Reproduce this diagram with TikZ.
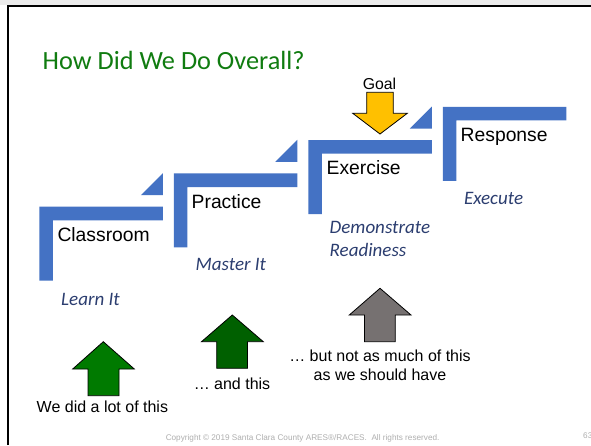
\documentclass[tikz,border=0pt]{standalone}
\usepackage{fontspec}
\setmainfont{Liberation Sans}
\newfontfamily\calib{Carlito}
\definecolor{stepblue}{HTML}{4472C4}
\definecolor{titlegreen}{RGB}{16,124,16}
\definecolor{italblue}{RGB}{44,62,112}
\definecolor{greenA}{RGB}{0,122,0}
\definecolor{greenB}{RGB}{0,96,0}
\definecolor{arrgray}{HTML}{767171}
\definecolor{goalyellow}{HTML}{FFC000}
\definecolor{copygray}{RGB}{175,175,175}
\tikzset{
  steplabel/.style={anchor=base west,inner sep=0pt,font=\fontsize{19.3}{23}\selectfont},
  itallabel/.style={anchor=base west,inner sep=0pt,text=italblue,font=\calib\itshape\fontsize{19}{23}\selectfont},
  bottext/.style={anchor=base,inner sep=0pt,font=\fontsize{16}{19}\selectfont},
  arrowline/.style={draw=black,line width=0.8pt,line join=miter},
}
\begin{document}
\begin{tikzpicture}[x=1pt,y=-1pt]
\useasboundingbox (0,0) rectangle (591,445);
\fill[white] (0,0) rectangle (591,445);
% frame
\fill[black!8] (0,0) rectangle (591,4.5);
\draw[line width=2pt] (8,445) -- (8,6) -- (591,6);
% title
\node[anchor=base west,inner sep=0pt,text=titlegreen,font=\calib\fontsize{26.3}{31}\selectfont] (title) at (42.5,69.3) {How Did We Do Overall?};
% steps
\foreach \i in {0,1,2,3}{
  \pgfmathsetmacro{\L}{39.3+134.5*\i}
  \pgfmathsetmacro{\T}{206.7-33.3*\i}
  \fill[stepblue] (\L,\T) -- ++(123.5,0) -- ++(0,13.6) -- ++(-110,0) -- ++(0,60.4) -- ++(-13.5,0) -- cycle;
}
\foreach \i in {0,1,2}{
  \pgfmathsetmacro{\L}{39.3+134.5*\i}
  \pgfmathsetmacro{\T}{206.7-33.3*\i}
  \fill[stepblue] (\L+101.5,\T-11.5) -- (\L+123.5,\T-33.5) -- (\L+123.5,\T-11.5) -- cycle;
}
% step labels
\node[steplabel] (classroom) at (57.3,241.7) {Classroom};
\node[steplabel] (practice) at (191.5,208) {Practice};
\node[steplabel] (exercise) at (326.5,174.3) {Exercise};
\node[steplabel] (response) at (460.5,141.7) {Response};
% italic labels
\node[itallabel] (learn) at (61,305) {Learn It};
\node[itallabel] (master) at (195.5,270.7) {Master It};
\node[itallabel] (demo) at (329.5,233.3) {Demonstrate};
\node[itallabel] (ready) at (329.5,256.6) {Readiness};
\node[itallabel] (execute) at (463.8,204) {Execute};
% goal arrow
\node[anchor=base,inner sep=0pt,font=\fontsize{15.8}{18}\selectfont] (goal) at (379.5,89.3) {Goal};
\filldraw[fill=goalyellow,arrowline] (366.7,92.3) -- (393.3,92.3) -- (393.3,113.3) -- (407.3,113.3) -- (380,134) -- (352.7,113.3) -- (366.7,113.3) -- cycle;
% up arrows
\filldraw[fill=greenA,arrowline] (103.3,341.7) -- (134.3,369) -- (119,369) -- (119,395.7) -- (88,395.7) -- (88,369) -- (72.7,369) -- cycle;
\filldraw[fill=greenB,arrowline] (232.3,315) -- (263.3,341.7) -- (247.5,341.7) -- (247.5,368.3) -- (216.7,368.3) -- (216.7,341.7) -- (201.5,341.7) -- cycle;
\filldraw[fill=arrgray,arrowline] (380,288.3) -- (411,315) -- (395.3,315) -- (395.3,341.7) -- (364.5,341.7) -- (364.5,315) -- (349.3,315) -- cycle;
% bottom texts
\node[bottext] (lot) at (102.4,412.7) {We did a lot of this};
\node[bottext] (andthis) at (232,389) {… and this};
\node[bottext] (notmuch) at (380,361.7) {… but not as much of this};
\node[bottext] (should) at (380,380.5) {as we should have};
% footer
\node[anchor=base,inner sep=0pt,text=copygray,font=\fontsize{8.2}{10}\selectfont] (copy) at (302.6,440.5) {Copyright © 2019 Santa Clara County ARES®/RACES.\ \ All rights reserved.};
\node[anchor=base west,inner sep=0pt,text=copygray,font=\fontsize{8.2}{10}\selectfont] (pagenum) at (583,438.5) {63};
\end{tikzpicture}
\end{document}
